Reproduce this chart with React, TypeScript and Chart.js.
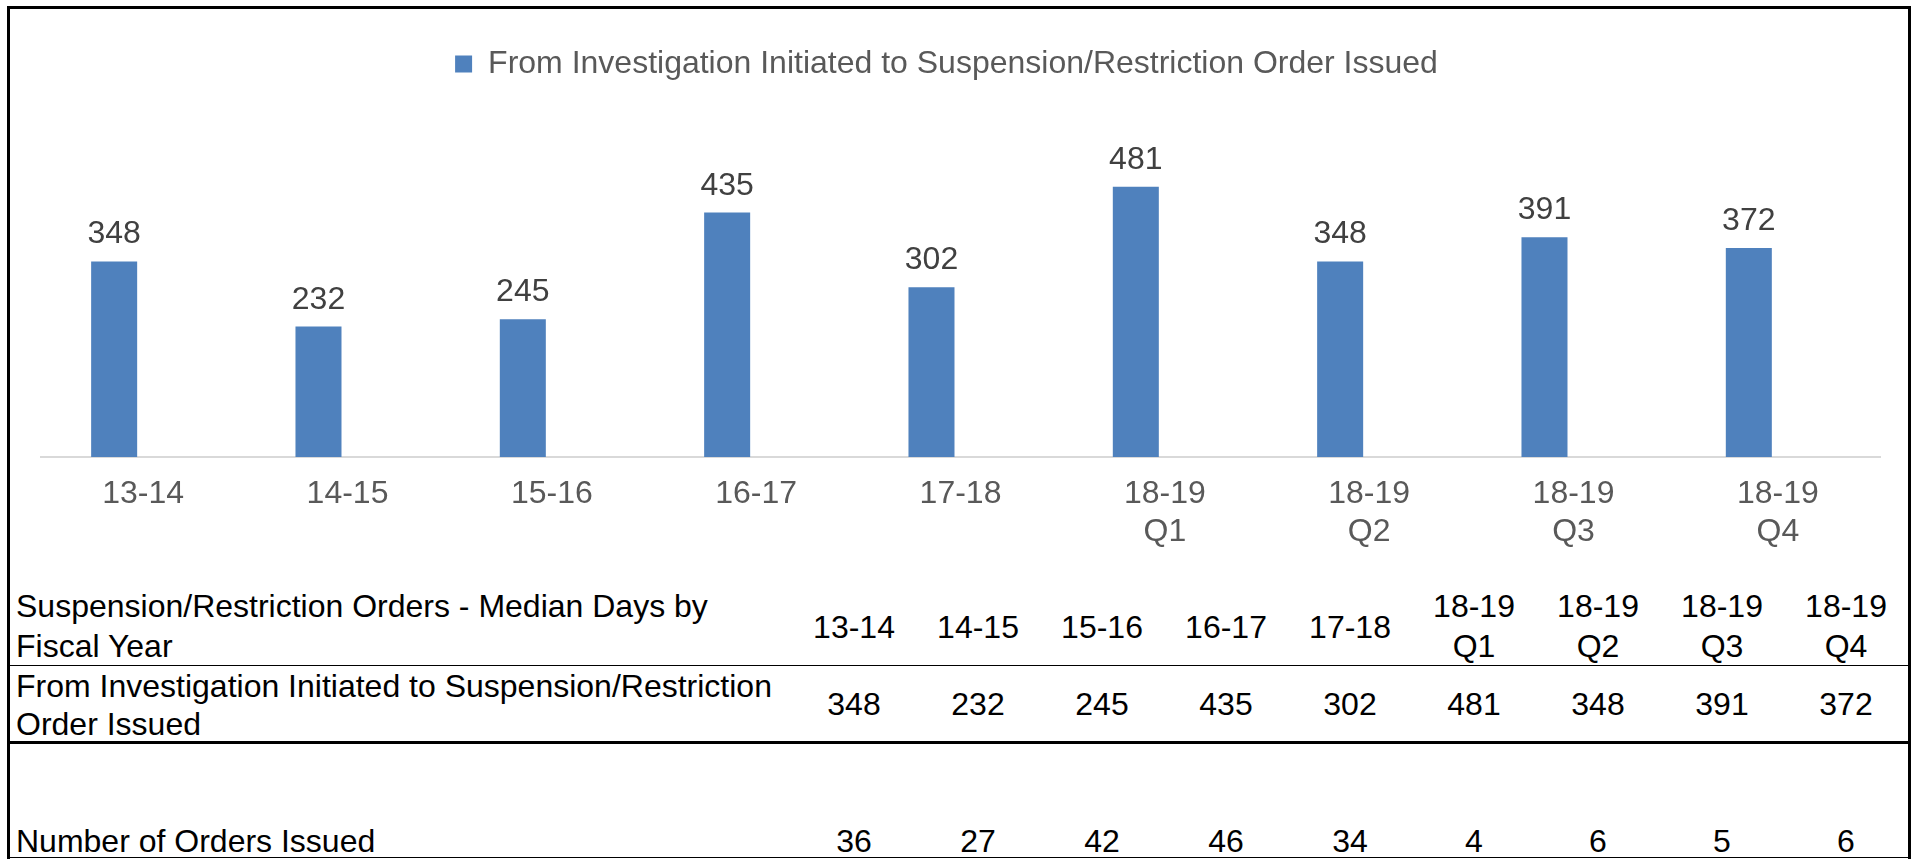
import React, { useEffect, useRef } from 'react';
import { Chart, registerables } from 'chart.js';

Chart.register(...registerables);

// ---------- data ----------
const periods = ['13-14', '14-15', '15-16', '16-17', '17-18', '18-19 Q1', '18-19 Q2', '18-19 Q3', '18-19 Q4'];
const medianDays = [348, 232, 245, 435, 302, 481, 348, 391, 372];
const ordersIssued = [36, 27, 42, 46, 34, 4, 6, 5, 6];
const emptySeries = periods.map(() => null); // blank second series slot (as in the source chart)
const seriesName = 'From Investigation Initiated to Suspension/Restriction Order Issued';
const tableTitle = 'Suspension/Restriction Orders - Median Days by Fiscal Year';
const ordersRowName = 'Number of Orders Issued';
const yAxisMax = 653;

// ---------- styles ----------
const FONT = '"Liberation Sans", Arial, Helvetica, sans-serif';
const BAR_COLOR = '#4F81BD';

const valueLabels = {
  id: 'valueLabels',
  afterDatasetsDraw(chart: any) {
    const { ctx } = chart;
    const meta = chart.getDatasetMeta(0);
    const values = chart.data.datasets[0].data;
    ctx.save();
    ctx.font = `32px ${FONT}`;
    ctx.fillStyle = '#404040';
    ctx.textAlign = 'center';
    ctx.textBaseline = 'alphabetic';
    meta.data.forEach((bar: any, i: number) => {
      ctx.fillText(String(values[i]), bar.x, bar.y - 18);
    });
    ctx.restore();
  },
};

// table layout helpers (baseline -> top for 32px Liberation Sans)
const topFor = (baseline: number, lh: number) => Math.round(baseline - lh / 2 - 11.1);
const COL_START = 792;
const COL_W = 124;
const LABEL_LEFT = 16;

const textBase: React.CSSProperties = {
  position: 'absolute',
  fontFamily: FONT,
  fontSize: 32,
  color: '#000',
  margin: 0,
};

export default function App() {
  const canvasRef = useRef<HTMLCanvasElement | null>(null);

  useEffect(() => {
    const canvas = canvasRef.current;
    if (!canvas) return;
    const chart = new Chart(canvas, {
      type: 'bar',
      data: {
        labels: periods.map((p) => p.split(' ')),
        datasets: [
          {
            label: seriesName,
            data: medianDays,
            backgroundColor: BAR_COLOR,
            borderWidth: 0,
            categoryPercentage: 0.568,
            barPercentage: 0.793,
          },
          {
            label: '',
            data: emptySeries,
            backgroundColor: 'rgba(0,0,0,0)',
            borderWidth: 0,
            categoryPercentage: 0.568,
            barPercentage: 0.793,
          },
        ],
      },
      options: {
        responsive: false,
        animation: false,
        devicePixelRatio: 1,
        layout: { padding: { top: 38, left: 13, right: 37, bottom: 0 } },
        plugins: {
          legend: {
            position: 'top',
            labels: {
              boxWidth: 17,
              boxHeight: 17,
              color: '#595959',
              padding: 10,
              font: { size: 32, family: FONT },
              filter: (item: any) => item.datasetIndex === 0,
            },
          },
          tooltip: { enabled: false },
        },
        scales: {
          x: {
            grid: { display: false, drawTicks: false },
            border: { display: true, color: '#D9D9D9', width: 2 },
            ticks: {
              color: '#595959',
              font: { size: 32, family: FONT, lineHeight: 1.2 },
              padding: 18,
              maxRotation: 0,
              autoSkip: false,
            },
            afterFit: (s: any) => {
              s.height = 128;
            },
          },
          y: {
            min: 0,
            max: yAxisMax,
            ticks: { display: false },
            grid: { display: false, drawTicks: false },
            border: { display: false },
            afterFit: (s: any) => {
              s.width = 28;
            },
          },
        },
      },
      plugins: [valueLabels],
    });
    return () => chart.destroy();
  }, []);

  const colLeft = (i: number) => COL_START + i * COL_W;

  return (
    <div style={{ position: 'fixed', left: 0, top: 0, width: 1917, height: 859, overflow: 'hidden', background: '#fff' }}>
      <canvas ref={canvasRef} width={1917} height={585} style={{ position: 'absolute', left: 0, top: 0, width: 1917, height: 585 }} />

      {/* header row */}
      <div style={{ ...textBase, left: LABEL_LEFT, top: topFor(617, 40), width: 770, lineHeight: '40px' }}>{tableTitle}</div>
      {periods.map((p, i) => {
        const lines = p.split(' ');
        const base = lines.length > 1 ? 617 : 638;
        return (
          <div key={'h' + i} style={{ ...textBase, left: colLeft(i), width: COL_W, textAlign: 'center', top: topFor(base, 40), lineHeight: '40px', whiteSpace: 'nowrap' }}>
            {lines.map((l, j) => (
              <div key={j}>{l}</div>
            ))}
          </div>
        );
      })}
      <div style={{ position: 'absolute', left: 10, top: 665, width: 1898, height: 1, background: '#000' }} />

      {/* median days row */}
      <div style={{ ...textBase, left: LABEL_LEFT, top: topFor(697, 38), width: 770, lineHeight: '38px' }}>{seriesName}</div>
      {medianDays.map((v, i) => (
        <div key={'m' + i} style={{ ...textBase, left: colLeft(i), width: COL_W, textAlign: 'center', top: topFor(715, 38), lineHeight: '38px' }}>
          {v}
        </div>
      ))}
      <div style={{ position: 'absolute', left: 10, top: 741, width: 1898, height: 3, background: '#000' }} />

      {/* orders row */}
      <div style={{ ...textBase, left: LABEL_LEFT, top: topFor(852, 38), width: 770, lineHeight: '38px' }}>{ordersRowName}</div>
      {ordersIssued.map((v, i) => (
        <div key={'o' + i} style={{ ...textBase, left: colLeft(i), width: COL_W, textAlign: 'center', top: topFor(852, 38), lineHeight: '38px' }}>
          {v}
        </div>
      ))}
      <div style={{ position: 'absolute', left: 10, top: 857, width: 1898, height: 1, background: '#000' }} />

      {/* outer frame */}
      <div style={{ position: 'absolute', left: 7, top: 6, width: 1904, height: 900, border: '3px solid #000', boxSizing: 'border-box', pointerEvents: 'none' }} />
    </div>
  );
}
